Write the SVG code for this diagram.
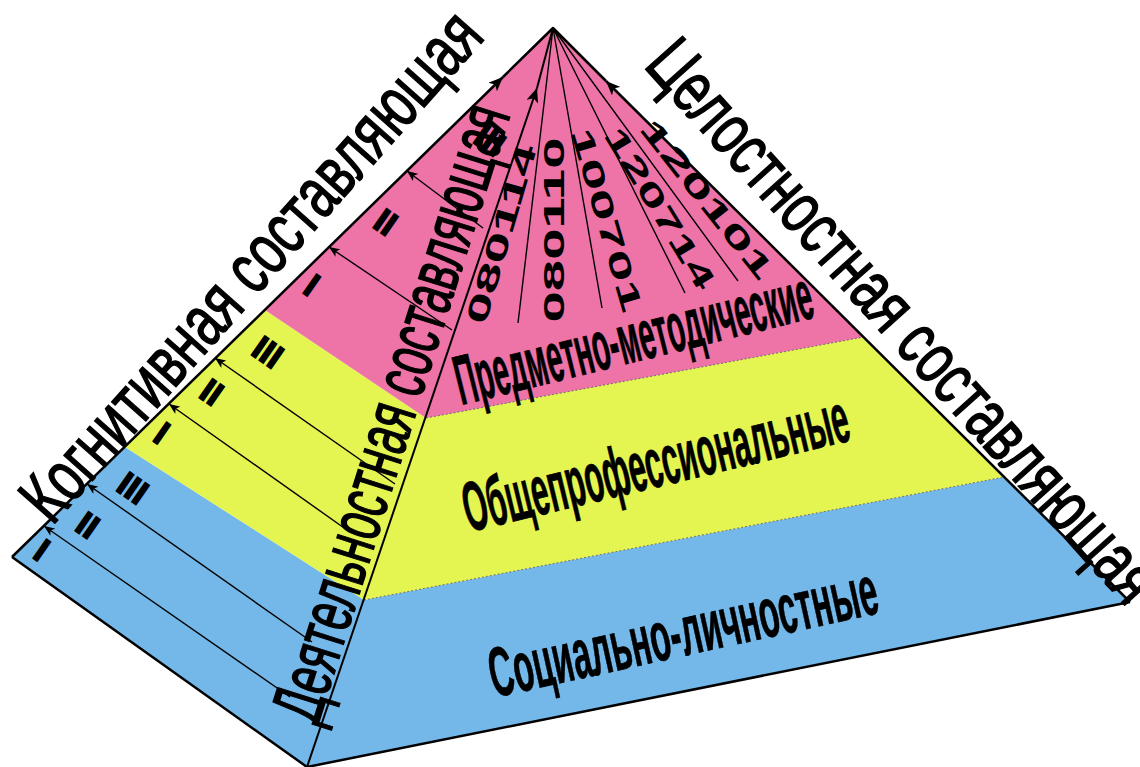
<svg xmlns="http://www.w3.org/2000/svg" width="1140" height="767" viewBox="0 0 1140 767">
<style>
.edge{fill:none;stroke:#000;stroke-width:2.5;stroke-linejoin:round}
.thin{fill:none;stroke:#000;stroke-width:1.4}
.band{fill:none;stroke:#555;stroke-width:0.8;stroke-dasharray:2 2}
.side{font-family:"Liberation Sans",Arial,sans-serif;font-size:72px;fill:#000;stroke:#000;stroke-width:1.6}
.lvl{font-family:"Liberation Sans",Arial,sans-serif;font-size:70px;font-weight:bold;fill:#000;stroke:#000;stroke-width:0.8}
.num{font-family:"Liberation Sans",Arial,sans-serif;font-size:30px;font-weight:bold;fill:#000}
.rom{font-family:"Liberation Sans",Arial,sans-serif;font-size:34px;font-weight:bold;fill:#000;stroke:#000;stroke-width:1.5}
</style>
<defs>
<marker id="ah" viewBox="0 0 12 10" refX="12" refY="5" markerWidth="15" markerHeight="12" markerUnits="userSpaceOnUse" orient="auto">
<path d="M0,0 L12,5 L0,10 L3,5 z" fill="#000"/>
</marker>
<marker id="ahs" viewBox="0 0 12 10" refX="12" refY="5" markerWidth="11" markerHeight="9" markerUnits="userSpaceOnUse" orient="auto">
<path d="M0,0 L12,5 L0,10 L3,5 z" fill="#000"/>
</marker>
</defs>
<rect width="1140" height="767" fill="#fff"/>
<g id="pyramid">
<polygon id="band-social" points="12,557 125,447 364,600 1004,477 1130,602 307,767" fill="#74B8EA"/>
<polygon id="band-general" points="125,447 265,310 426,418 864,337 1004,477 364,600" fill="#E4F451"/>
<polygon id="band-subject" points="265,310 553,28 864,337 426,418" fill="#EE73A6"/>
<path class="band" d="M426,418 L864,337 M364,600 L1004,477"/>
</g>
<g id="connectors">
<path class="thin" d="M290,697 L44,526" marker-end="url(#ahs)"/>
<path class="thin" d="M312,642 L87,484" marker-end="url(#ahs)"/>
<path class="thin" d="M347,530 L169,404" marker-end="url(#ahs)"/>
<path class="thin" d="M395,484 L215,358" marker-end="url(#ahs)"/>
<path class="thin" d="M452,330 L329,247" marker-end="url(#ahs)"/>
<path class="thin" d="M483,228 L407,171" marker-end="url(#ahs)"/>
<path class="thin" d="M553,28 L518,323 M553,28 L602,308 M553,28 L685,293 M553,28 L738,281"/>
<path class="edge" d="M12,557 L307,767 L1130,602"/>
<path class="edge" d="M12,557 L503,77" marker-end="url(#ah)"/>
<path class="edge" d="M503,77 L553,28 L606,81"/>
<path class="edge" d="M1130,602 L606,81" marker-end="url(#ah)"/>
<path class="edge" style="stroke-width:2" d="M307,767 L537,88" marker-end="url(#ah)"/>
<path class="edge" style="stroke-width:2" d="M537,88 L553,28"/>
</g>
<g id="roman">
<text class="rom" text-anchor="middle" dominant-baseline="central" transform="translate(42,550) rotate(35)">I</text>
<text class="rom" text-anchor="middle" dominant-baseline="central" transform="translate(88,525) rotate(35)">II</text>
<text class="rom" text-anchor="middle" dominant-baseline="central" transform="translate(133,488) rotate(35)">III</text>
<text class="rom" text-anchor="middle" dominant-baseline="central" transform="translate(162,433) rotate(35)">I</text>
<text class="rom" text-anchor="middle" dominant-baseline="central" transform="translate(212,392) rotate(35)">II</text>
<text class="rom" text-anchor="middle" dominant-baseline="central" transform="translate(268,352) rotate(35)">III</text>
<text class="rom" text-anchor="middle" dominant-baseline="central" transform="translate(312,285) rotate(35)">I</text>
<text class="rom" text-anchor="middle" dominant-baseline="central" transform="translate(386,222) rotate(35)">II</text>
<text class="rom" text-anchor="middle" dominant-baseline="central" transform="translate(490,140) rotate(35)">III</text>
</g>
<g id="codes">
<text class="num" text-anchor="middle" dominant-baseline="central" textLength="185" lengthAdjust="spacingAndGlyphs" transform="translate(501,234) rotate(-73.8)">080114</text>
<text class="num" text-anchor="middle" dominant-baseline="central" textLength="185" lengthAdjust="spacingAndGlyphs" transform="translate(553,230) rotate(-90)">080110</text>
<text class="num" text-anchor="middle" dominant-baseline="central" textLength="190" lengthAdjust="spacingAndGlyphs" transform="translate(607,220) rotate(73.8)">100701</text>
<text class="num" text-anchor="middle" dominant-baseline="central" textLength="184" lengthAdjust="spacingAndGlyphs" transform="translate(660,208) rotate(58.6)">120714</text>
<text class="num" text-anchor="middle" dominant-baseline="central" textLength="195" lengthAdjust="spacingAndGlyphs" transform="translate(707,199) rotate(51.6)">120101</text>
</g>
<g id="levels">
<text class="lvl" text-anchor="middle" textLength="366" lengthAdjust="spacingAndGlyphs" transform="translate(639,361) rotate(-13.9)">Предметно-методические</text>
<text class="lvl" text-anchor="middle" textLength="395" lengthAdjust="spacingAndGlyphs" transform="translate(661,486) rotate(-13.5)">Общепрофессиональные</text>
<text class="lvl" text-anchor="middle" textLength="396" lengthAdjust="spacingAndGlyphs" transform="translate(688,655) rotate(-12.4)">Социально-личностные</text>
</g>
<g id="components">
<text class="side" text-anchor="middle" textLength="654" lengthAdjust="spacingAndGlyphs" transform="translate(269,282) rotate(-48.4)">Когнитивная составляющая</text>
<text class="side" text-anchor="middle" textLength="727" lengthAdjust="spacingAndGlyphs" transform="translate(885,337) rotate(48.2)">Целостностная составляющая</text>
<text class="side" text-anchor="middle" textLength="642" lengthAdjust="spacingAndGlyphs" transform="translate(414,420) rotate(-72.5)">Деятельностная составляющая</text>
</g>
</svg>
